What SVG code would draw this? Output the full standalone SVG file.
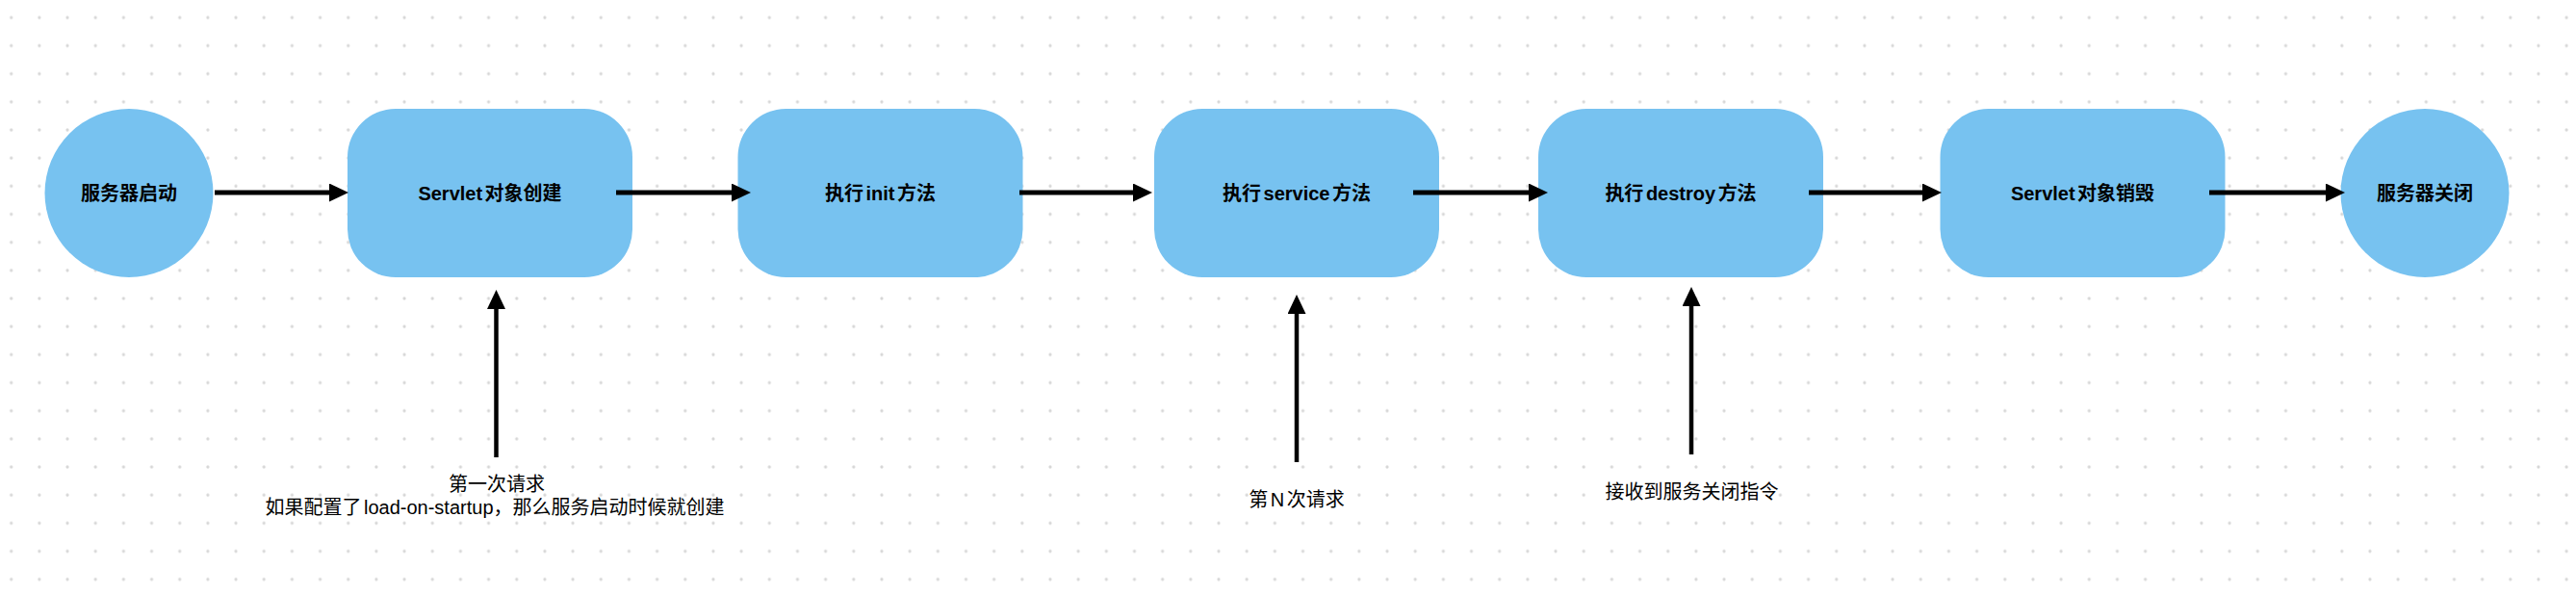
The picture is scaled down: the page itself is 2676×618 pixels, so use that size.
<svg xmlns="http://www.w3.org/2000/svg" width="2676" height="618" viewBox="0 0 2676 618">
  <style>
    .node { fill: #77C2F0; }
    .nlabel { font-family: "Liberation Sans", "Noto Sans CJK SC", sans-serif; font-size: 20px; font-weight: bold; fill: #000; text-anchor: middle; dominant-baseline: central; }
    .elabel { font-family: "Liberation Sans", "Noto Sans CJK SC", sans-serif; font-size: 20px; fill: #000; text-anchor: middle; dominant-baseline: central; }
    .hline { stroke: #000; stroke-width: 5; fill: none; }
    .vline { stroke: #000; stroke-width: 4.5; fill: none; }
  </style>
  <defs>
    <pattern id="dots" x="11.7" y="18.3" width="29.17" height="29.17" patternUnits="userSpaceOnUse">
      <circle cx="0" cy="0" r="1.6" fill="#d6d6d6"/>
      <circle cx="29.17" cy="0" r="1.6" fill="#d6d6d6"/>
      <circle cx="0" cy="29.17" r="1.6" fill="#d6d6d6"/>
      <circle cx="29.17" cy="29.17" r="1.6" fill="#d6d6d6"/>
    </pattern>
    <marker id="arrow" viewBox="0 0 20 19" refX="1" refY="9.5" markerWidth="20" markerHeight="19" markerUnits="userSpaceOnUse" orient="auto">
      <path d="M0,0 L20,9.5 L0,19 Z" fill="#000"/>
    </marker>
  </defs>
  <rect x="0" y="0" width="2676" height="618" fill="#ffffff"/>
  <rect x="0" y="0" width="2676" height="618" fill="url(#dots)"/>

  <g id="n-start">
    <circle class="node" cx="134" cy="200.5" r="87.5"/>
    <text class="nlabel" x="134" y="200.5">服务器启动</text>
  </g>
  <g id="n-create">
    <rect class="node" x="361" y="113" width="296" height="175" rx="50" ry="50"/>
    <text class="nlabel" x="509" y="200.5">Servlet<tspan dx="2.5">对象创建</tspan></text>
  </g>
  <g id="n-init">
    <rect class="node" x="766.5" y="113" width="296" height="175" rx="50" ry="50"/>
    <text class="nlabel" x="914.5" y="200.5">执行<tspan dx="2.5">init</tspan><tspan dx="2.5">方法</tspan></text>
  </g>
  <g id="n-service">
    <rect class="node" x="1199" y="113" width="296" height="175" rx="50" ry="50"/>
    <text class="nlabel" x="1347" y="200.5">执行<tspan dx="2.5">service</tspan><tspan dx="2.5">方法</tspan></text>
  </g>
  <g id="n-destroy">
    <rect class="node" x="1598" y="113" width="296" height="175" rx="50" ry="50"/>
    <text class="nlabel" x="1746" y="200.5">执行<tspan dx="2.5">destroy</tspan><tspan dx="2.5">方法</tspan></text>
  </g>
  <g id="n-destroyed">
    <rect class="node" x="2015.5" y="113" width="296" height="175" rx="50" ry="50"/>
    <text class="nlabel" x="2163.5" y="200.5">Servlet<tspan dx="2.5">对象销毁</tspan></text>
  </g>
  <g id="n-stop">
    <circle class="node" cx="2519" cy="200.5" r="87.5"/>
    <text class="nlabel" x="2519" y="200.5">服务器关闭</text>
  </g>

  <g id="connectors">
    <line class="hline" x1="223" y1="200" x2="343" y2="200" marker-end="url(#arrow)"/>
    <line class="hline" x1="640" y1="200" x2="761" y2="200" marker-end="url(#arrow)"/>
    <line class="hline" x1="1059" y1="200" x2="1178" y2="200" marker-end="url(#arrow)"/>
    <line class="hline" x1="1468" y1="200" x2="1589" y2="200" marker-end="url(#arrow)"/>
    <line class="hline" x1="1879" y1="200" x2="1998" y2="200" marker-end="url(#arrow)"/>
    <line class="hline" x1="2295" y1="200" x2="2417" y2="200" marker-end="url(#arrow)"/>
    <line class="vline" x1="515.5" y1="475" x2="515.5" y2="320" marker-end="url(#arrow)"/>
    <line class="vline" x1="1347" y1="480" x2="1347" y2="325" marker-end="url(#arrow)"/>
    <line class="vline" x1="1757" y1="472" x2="1757" y2="317" marker-end="url(#arrow)"/>
  </g>

  <g id="labels">
    <text class="elabel" x="516" y="503">第一次请求</text>
    <text class="elabel" x="514" y="527">如果配置了<tspan dx="2.5">load-on-startup，那么服务启动时候就创建</tspan></text>
    <text class="elabel" x="1347" y="519">第<tspan dx="2.5">N</tspan><tspan dx="2.5">次请求</tspan></text>
    <text class="elabel" x="1757.5" y="511">接收到服务关闭指令</text>
  </g>
</svg>
